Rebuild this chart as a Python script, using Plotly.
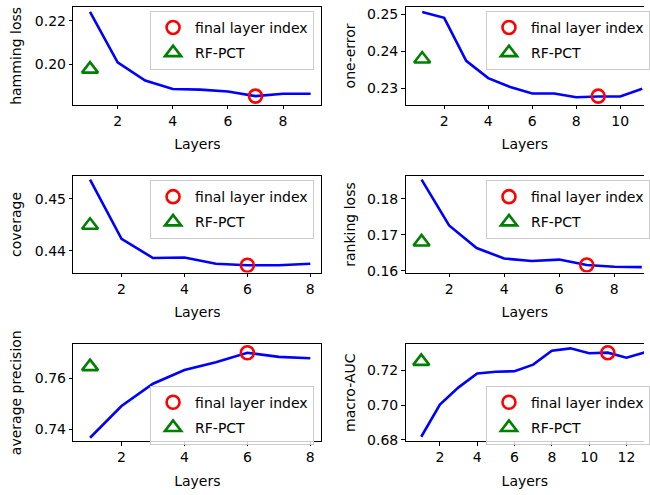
import plotly.graph_objects as go

# ---------------- data ----------------
metric_names = ["hamming loss", "one-error", "coverage", "ranking loss",
                "average precision", "macro-AUC"]

hamming_layers = [1, 2, 3, 4, 5, 6, 7, 8, 9]
hamming_values = [0.2241, 0.2009, 0.1926, 0.1887, 0.1884, 0.1875, 0.1854, 0.1865, 0.1865]
hamming_final = (7, 0.1854)
hamming_rfpct = 0.1978

oneerr_layers = [1, 2, 3, 4, 5, 6, 7, 8, 9, 10, 11]
oneerr_values = [0.2507, 0.2491, 0.2374, 0.2327, 0.2303, 0.2285, 0.2285, 0.2275, 0.2277, 0.2277, 0.2298]
oneerr_final = (9, 0.2278)
oneerr_rfpct = 0.2379

coverage_layers = [1, 2, 3, 4, 5, 6, 7, 8]
coverage_values = [0.4537, 0.4423, 0.4386, 0.4387, 0.4375, 0.4372, 0.4372, 0.4375]
coverage_final = (6, 0.4372)
coverage_rfpct = 0.4449

ranking_layers = [1, 2, 3, 4, 5, 6, 7, 8, 9]
ranking_values = [0.1853, 0.1726, 0.1663, 0.1634, 0.1627, 0.1631, 0.1616, 0.1611, 0.1610]
ranking_final = (7, 0.1616)
ranking_rfpct = 0.1680

avgprec_layers = [1, 2, 3, 4, 5, 6, 7, 8]
avgprec_values = [0.7367, 0.7491, 0.7578, 0.7632, 0.7662, 0.7699, 0.7683, 0.7678]
avgprec_final = (6, 0.7699)
avgprec_rfpct = 0.7645

auc_layers = [1, 2, 3, 4, 5, 6, 7, 8, 9, 10, 11, 12, 13]
auc_values = [0.6818, 0.7004, 0.7103, 0.7183, 0.7193, 0.7196, 0.7234, 0.7314, 0.7328, 0.7300, 0.7303, 0.7274, 0.7305]
auc_final = (11, 0.7303)
auc_rfpct = 0.7253

rf_layer = 1
legend_labels = ["final layer index", "RF-PCT"]
x_label = "Layers"

panels = [
    (hamming_layers, hamming_values, hamming_final, hamming_rfpct),
    (oneerr_layers, oneerr_values, oneerr_final, oneerr_rfpct),
    (coverage_layers, coverage_values, coverage_final, coverage_rfpct),
    (ranking_layers, ranking_values, ranking_final, ranking_rfpct),
    (avgprec_layers, avgprec_values, avgprec_final, avgprec_rfpct),
    (auc_layers, auc_values, auc_final, auc_rfpct),
]

# ---------------- layout geometry ----------------
W, H = 650, 495
xdom_left = [74 / W, 324.3 / W]
xdom_right = [409.3 / W, 1.0]
ydoms = [[1 - 105.3 / H, 1 - 6.3 / H],
         [1 - 276 / H, 1 - 178.3 / H],
         [1 - 447.3 / H, 1 - 349 / H]]

xranges = [[0.394, 9.387], [0.243, 11.08], [0.468, 8.35],
           [0.417, 9.08], [0.468, 8.35], [0.157, 12.94]]
yranges = [[0.1815, 0.2263], [0.2255, 0.2520], [0.4358, 0.4543],
           [0.1595, 0.1862], [0.7354, 0.7732], [0.6793, 0.7351]]
ydticks = [0.02, 0.01, 0.01, 0.01, 0.02, 0.02]
legend_pos = [  # (x_px, y_px top, anchor)
    (317, 10, "right"), (490.5, 10, "left"),
    (317, 182, "right"), (490.5, 182, "left"),
    (317, 391, "right"), (490.5, 391, "left"),
]

FONT = "DejaVu Sans"
FS = 14

fig = go.Figure()
layout = dict(
    width=W, height=H,
    margin=dict(l=0, r=0, t=0, b=0),
    paper_bgcolor="white", plot_bgcolor="white",
    font=dict(family=FONT, size=FS, color="black"),
)

for i, (lx, ly, fin, rf) in enumerate(panels):
    n = i + 1
    sfx = "" if n == 1 else str(n)
    leg = "legend" if n == 1 else f"legend{n}"
    xa, ya = f"x{sfx}", f"y{sfx}"
    fig.add_trace(go.Scatter(x=lx, y=ly, mode="lines", xaxis=xa, yaxis=ya,
                             line=dict(color="#0000ff", width=2.6),
                             showlegend=False, hoverinfo="skip"))
    fig.add_trace(go.Scatter(x=[fin[0]], y=[fin[1]], mode="markers", xaxis=xa, yaxis=ya,
                             name=legend_labels[0], legend=leg, legendgroup=f"fin{n}",
                             marker=dict(symbol="circle-open", size=13, color="#ff0000",
                                         line=dict(width=2.6, color="#ff0000"))))
    fig.add_trace(go.Scatter(x=[rf_layer], y=[rf], mode="markers", xaxis=xa, yaxis=ya,
                             name=legend_labels[1], legend=leg, legendgroup=f"rf{n}",
                             marker=dict(symbol="triangle-up-open", size=14, color="#008000",
                                         line=dict(width=2.6, color="#008000"))))
    col = i % 2
    row = i // 2
    layout[f"xaxis{sfx}"] = dict(
        domain=xdom_left if col == 0 else xdom_right, anchor=ya,
        range=xranges[i], dtick=2, tick0=0,
        showline=True, linecolor="black", linewidth=1, mirror=True,
        ticks="outside", ticklen=3.5, tickcolor="black", showgrid=False, zeroline=False,
        title=dict(text=x_label, standoff=11, font=dict(size=FS)),
        tickfont=dict(size=FS),
    )
    layout[f"yaxis{sfx}"] = dict(
        domain=ydoms[row], anchor=xa,
        range=yranges[i], dtick=ydticks[i], tick0=0, tickformat=".2f",
        showline=True, linecolor="black", linewidth=1, mirror=(col == 0),
        ticks="outside", ticklen=3.5, tickcolor="black", showgrid=False, zeroline=False,
        title=dict(text=metric_names[i], standoff=9 if col == 0 else 8, font=dict(size=FS)),
        tickfont=dict(size=FS),
    )
    px, py, anc = legend_pos[i]
    layout[leg] = dict(
        x=px / W, y=1 - py / H, xanchor=anc, yanchor="top",
        bgcolor="rgba(255,255,255,0.8)", bordercolor="#cccccc", borderwidth=1,
        font=dict(size=FS, family=FONT), tracegroupgap=4, itemwidth=34,
    )

fig.update_layout(**layout)
fig.write_html("out.html", config={"displayModeBar": False},
               post_script="document.body.style.margin='0px';")
